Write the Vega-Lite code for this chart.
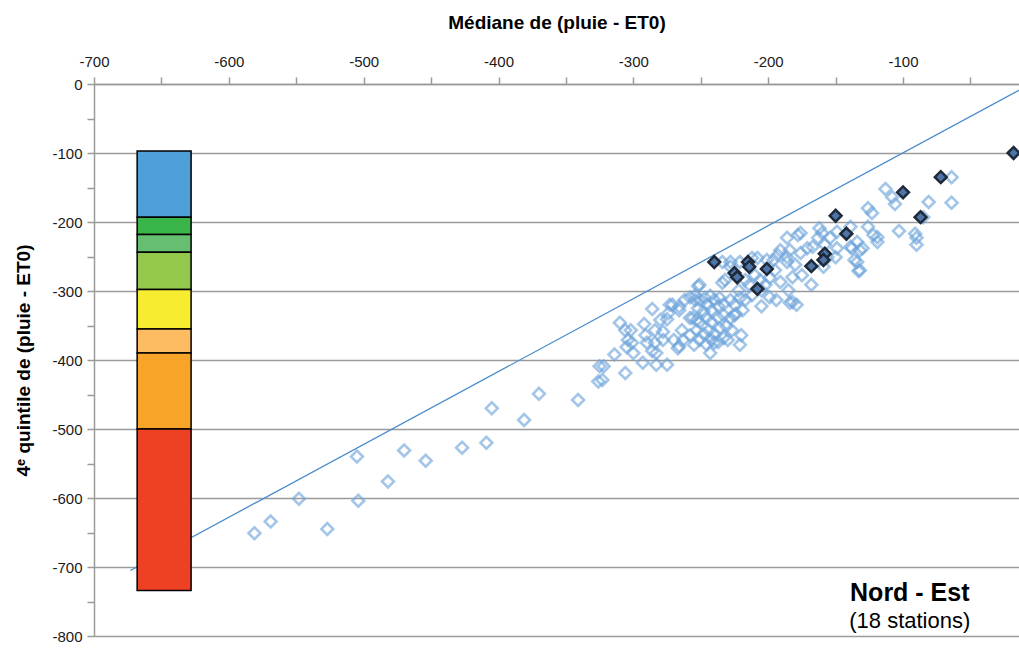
{
"$schema": "https://vega.github.io/schema/vega-lite/v6.json",
"autosize": {"type": "none"},
"padding": {"left": 94, "top": 84, "right": 0, "bottom": 23},
"width": 925,
"height": 552,
"background": "white",
"view": {"stroke": null},
"datasets": {
"pts": [
{"x":-581,"y":-651,"s":0},{"x":-569,"y":-634,"s":0},{"x":-548,"y":-601,"s":0},{"x":-527,"y":-645,"s":0},{"x":-505,"y":-540,"s":0},{"x":-504,"y":-604,"s":0},{"x":-482,"y":-576,"s":0},{"x":-470,"y":-531,"s":0},{"x":-454,"y":-546,"s":0},{"x":-427,"y":-527,"s":0},{"x":-409,"y":-520,"s":0},{"x":-405,"y":-470,"s":0},{"x":-381,"y":-487,"s":0},{"x":-370,"y":-449,"s":0},{"x":-341,"y":-458,"s":0},{"x":-326,"y":-431,"s":0},{"x":-325,"y":-409,"s":0},
{"x":-310,"y":-346,"s":0},{"x":-306,"y":-357,"s":0},{"x":-302,"y":-357,"s":0},{"x":-292,"y":-348,"s":0},{"x":-291,"y":-364,"s":0},{"x":-284,"y":-357,"s":0},{"x":-304,"y":-371,"s":0},{"x":-301,"y":-375,"s":0},{"x":-305,"y":-381,"s":0},{"x":-300,"y":-390,"s":0},{"x":-290,"y":-375,"s":0},{"x":-284,"y":-375,"s":0},{"x":-286,"y":-387,"s":0},{"x":-283,"y":-390,"s":0},{"x":-278,"y":-359,"s":0},{"x":-278,"y":-371,"s":0},{"x":-271,"y":-320,"s":0},{"x":-274,"y":-332,"s":0},{"x":-280,"y":-342,"s":0},{"x":-275,"y":-341,"s":0},{"x":-270,"y":-371,"s":0},{"x":-266,"y":-380,"s":0},{"x":-267,"y":-383,"s":0},{"x":-263,"y":-371,"s":0},{"x":-264,"y":-357,"s":0},{"x":-266,"y":-328,"s":0},{"x":-262,"y":-313,"s":0},{"x":-258,"y":-339,"s":0},{"x":-254,"y":-313,"s":0},{"x":-253,"y":-342,"s":0},{"x":-286,"y":-326,"s":0},{"x":-322,"y":-409,"s":0},{"x":-323,"y":-429,"s":0},{"x":-306,"y":-419,"s":0},{"x":-293,"y":-404,"s":0},{"x":-283,"y":-407,"s":0},{"x":-275,"y":-407,"s":0},{"x":-314,"y":-392,"s":0},
{"x":-220,"y":-364,"s":0},{"x":-221,"y":-378,"s":0},{"x":-240,"y":-375,"s":0},{"x":-243,"y":-390,"s":0},{"x":-205,"y":-322,"s":0},{"x":-199,"y":-309,"s":0},{"x":-225,"y":-335,"s":0},{"x":-234,"y":-288,"s":0},{"x":-251,"y":-291,"s":0},{"x":-228,"y":-258,"s":0},{"x":-191,"y":-287,"s":0},{"x":-186,"y":-258,"s":0},{"x":-184,"y":-317,"s":0},
{"x":-113,"y":-152,"s":0},{"x":-108,"y":-164,"s":0},{"x":-126,"y":-180,"s":0},{"x":-123,"y":-187,"s":0},{"x":-139,"y":-207,"s":0},{"x":-126,"y":-207,"s":0},{"x":-122,"y":-219,"s":0},{"x":-119,"y":-222,"s":0},{"x":-119,"y":-229,"s":0},{"x":-162,"y":-209,"s":0},{"x":-160,"y":-216,"s":0},{"x":-149,"y":-214,"s":0},{"x":-154,"y":-223,"s":0},{"x":-149,"y":-238,"s":0},{"x":-150,"y":-251,"s":0},{"x":-139,"y":-236,"s":0},{"x":-134,"y":-229,"s":0},{"x":-130,"y":-238,"s":0},{"x":-136,"y":-255,"s":0},{"x":-132,"y":-270,"s":0},{"x":-163,"y":-223,"s":0},{"x":-176,"y":-216,"s":0},{"x":-171,"y":-238,"s":0},{"x":-176,"y":-245,"s":0},{"x":-180,"y":-262,"s":0},{"x":-182,"y":-280,"s":0},{"x":-175,"y":-277,"s":0},{"x":-168,"y":-291,"s":0},{"x":-182,"y":-316,"s":0},{"x":-179,"y":-320,"s":0},{"x":-185,"y":-299,"s":0},{"x":-186,"y":-223,"s":0},{"x":-167,"y":-236,"s":0},{"x":-158,"y":-233,"s":0},{"x":-156,"y":-251,"s":0},{"x":-159,"y":-265,"s":0},
{"x":-64,"y":-135,"s":0},{"x":-106,"y":-174,"s":0},{"x":-81,"y":-171,"s":0},{"x":-64,"y":-172,"s":0},{"x":-85,"y":-193,"s":0},{"x":-103,"y":-213,"s":0},{"x":-91,"y":-217,"s":0},{"x":-90,"y":-223,"s":0},{"x":-90,"y":-233,"s":0},{"x":-132,"y":-241,"s":0},{"x":-138,"y":-238,"s":0},{"x":-134,"y":-258,"s":0},{"x":-133,"y":-271,"s":0},{"x":-184,"y":-241,"s":0},
{"x":-178,"y":-219,"s":0},{"x":-191,"y":-241,"s":0},{"x":-186,"y":-251,"s":0},{"x":-196,"y":-255,"s":0},{"x":-201,"y":-255,"s":0},{"x":-208,"y":-252,"s":0},{"x":-234,"y":-258,"s":0},{"x":-228,"y":-265,"s":0},
{"x":-252,"y":-293,"s":0},{"x":-258,"y":-309,"s":0},{"x":-266,"y":-323,"s":0},{"x":-273,"y":-320,"s":0},
{"x":-254,"y":-306,"s":0},{"x":-251,"y":-313,"s":0},{"x":-247,"y":-310,"s":0},{"x":-243,"y":-307,"s":0},{"x":-240,"y":-313,"s":0},{"x":-236,"y":-310,"s":0},{"x":-252,"y":-325,"s":0},{"x":-248,"y":-330,"s":0},{"x":-245,"y":-320,"s":0},{"x":-242,"y":-328,"s":0},{"x":-237,"y":-322,"s":0},{"x":-233,"y":-319,"s":0},{"x":-228,"y":-313,"s":0},{"x":-225,"y":-320,"s":0},{"x":-221,"y":-310,"s":0},{"x":-256,"y":-339,"s":0},{"x":-251,"y":-345,"s":0},{"x":-246,"y":-339,"s":0},{"x":-242,"y":-345,"s":0},{"x":-237,"y":-339,"s":0},{"x":-233,"y":-335,"s":0},{"x":-228,"y":-339,"s":0},{"x":-224,"y":-333,"s":0},{"x":-219,"y":-328,"s":0},{"x":-253,"y":-357,"s":0},{"x":-248,"y":-362,"s":0},{"x":-244,"y":-357,"s":0},{"x":-240,"y":-362,"s":0},{"x":-236,"y":-354,"s":0},{"x":-231,"y":-351,"s":0},{"x":-227,"y":-357,"s":0},{"x":-251,"y":-371,"s":0},{"x":-246,"y":-377,"s":0},{"x":-242,"y":-371,"s":0},{"x":-237,"y":-374,"s":0},{"x":-233,"y":-368,"s":0},{"x":-258,"y":-364,"s":0},{"x":-255,"y":-378,"s":0},{"x":-230,"y":-371,"s":0},
{"x":-217,"y":-284,"s":0},{"x":-214,"y":-291,"s":0},{"x":-210,"y":-277,"s":0},{"x":-206,"y":-284,"s":0},{"x":-202,"y":-291,"s":0},{"x":-199,"y":-281,"s":0},{"x":-195,"y":-270,"s":0},{"x":-212,"y":-306,"s":0},{"x":-205,"y":-299,"s":0},{"x":-217,"y":-313,"s":0},{"x":-222,"y":-299,"s":0},{"x":-194,"y":-313,"s":0},{"x":-221,"y":-258,"s":0},{"x":-212,"y":-252,"s":0},{"x":-193,"y":-248,"s":0},{"x":-232,"y":-284,"s":0},
{"x":-240,"y":-258,"s":1},{"x":-225,"y":-274,"s":1},{"x":-223,"y":-280,"s":1},{"x":-215,"y":-258,"s":1},{"x":-214,"y":-265,"s":1},{"x":-208,"y":-297,"s":1},{"x":-201,"y":-268,"s":1},{"x":-150,"y":-191,"s":1},{"x":-142,"y":-217,"s":1},{"x":-158,"y":-246,"s":1},{"x":-159,"y":-255,"s":1},{"x":-168,"y":-264,"s":1},{"x":-18,"y":-100,"s":1},{"x":-72,"y":-135,"s":1},{"x":-100,"y":-157,"s":1},{"x":-87,"y":-193,"s":1}
],
"bar": [
{"x":-668,"xe":-628,"y":-97,"ye":-193,"c":"a"},
{"x":-668,"xe":-628,"y":-193,"ye":-218,"c":"b"},
{"x":-668,"xe":-628,"y":-218,"ye":-244,"c":"c"},
{"x":-668,"xe":-628,"y":-244,"ye":-298,"c":"d"},
{"x":-668,"xe":-628,"y":-298,"ye":-355,"c":"e"},
{"x":-668,"xe":-628,"y":-355,"ye":-390,"c":"f"},
{"x":-668,"xe":-628,"y":-390,"ye":-500,"c":"g"},
{"x":-668,"xe":-628,"y":-500,"ye":-734,"c":"h"}
],
"line": [{"x":-673,"y":-705},{"x":-14,"y":-9}],
"lab": [{"x":-95,"y":-738,"t":"Nord - Est","k":"a"},{"x":-95,"y":-778,"t":"(18 stations)","k":"b"}]
},
"encoding": {
"x": {"field": "x", "type": "quantitative",
 "scale": {"domain": [-700, -14], "nice": false, "zero": false},
 "axis": {"orient": "top", "title": "Médiane de (pluie - ET0)",
  "values": [-700,-650,-600,-550,-500,-450,-400,-350,-300,-250,-200,-150,-100,-50],
  "labelExpr": "datum.value % 100 === 0 ? '' + datum.value : ''",
  "grid": false, "domainColor": "#9a9a9a", "domainWidth": 1.5, "tickColor": "#9a9a9a", "tickWidth": 1.5, "tickSize": 7,
  "labelFont": "Liberation Sans", "labelFontSize": 15, "labelColor": "#1a1a1a", "labelPadding": 8, "labelFlush": false,
  "titleFont": "Liberation Sans", "titleFontSize": 19, "titleFontWeight": "bold", "titleColor": "#000", "titlePadding": 22}},
"y": {"field": "y", "type": "quantitative",
 "scale": {"domain": [-800, 0], "nice": false, "zero": false},
 "axis": {"orient": "left", "title": "4ᵉ quintile de (pluie - ET0)",
  "values": [-800,-750,-700,-650,-600,-550,-500,-450,-400,-350,-300,-250,-200,-150,-100,-50,0],
  "labelExpr": "datum.value % 100 === 0 ? '' + datum.value : ''",
  "grid": true, "gridColor": "#9a9a9a", "gridWidth": 1.5,
  "gridOpacity": {"condition": {"test": "datum.value % 100 === 0", "value": 1}, "value": 0},
  "domainColor": "#9a9a9a", "domainWidth": 1.5, "tickColor": "#9a9a9a", "tickWidth": 1.5, "tickSize": 7,
  "labelFont": "Liberation Sans", "labelFontSize": 15, "labelColor": "#1a1a1a", "labelPadding": 5, "labelFlush": false,
  "titleFont": "Liberation Sans", "titleFontSize": 19, "titleFontWeight": "bold", "titleColor": "#000", "titlePadding": 18}}
},
"layer": [
{"data": {"name": "line"}, "mark": {"type": "line", "color": "#4a8ccc", "strokeWidth": 1.3}, "encoding": {}},
{"data": {"name": "bar"}, "mark": {"type": "rect", "stroke": "#000", "strokeWidth": 1.5},
 "encoding": {"x2": {"field": "xe"}, "y2": {"field": "ye"},
  "color": {"field": "c", "type": "nominal", "legend": null,
   "scale": {"domain": ["a","b","c","d","e","f","g","h"], "range": ["#4f9fd8","#3ab54a","#66bf70","#93c84c","#f7ec30","#fdbb62","#f7a428","#ee4124"]}}}},
{"data": {"name": "pts"}, "transform": [{"filter": "datum.s === 0"}],
 "mark": {"type": "point", "shape": "diamond", "filled": false, "size": 140, "stroke": "#6ea4dc", "strokeWidth": 2.6, "strokeOpacity": 0.9}},
{"data": {"name": "pts"}, "transform": [{"filter": "datum.s === 1"}],
 "mark": {"type": "point", "shape": "diamond", "filled": true, "size": 140, "fill": "#4f74a8", "fillOpacity": 1, "stroke": "#1e2a3a", "strokeWidth": 2.5, "strokeOpacity": 1}},
{"data": {"name": "lab"}, "transform": [{"filter": "datum.k === 'a'"}],
 "mark": {"type": "text", "font": "Liberation Sans", "fontSize": 25, "fontWeight": "bold", "color": "#000", "align": "center", "baseline": "middle"},
 "encoding": {"text": {"field": "t"}}},
{"data": {"name": "lab"}, "transform": [{"filter": "datum.k === 'b'"}],
 "mark": {"type": "text", "font": "Liberation Sans", "fontSize": 22, "color": "#000", "align": "center", "baseline": "middle"},
 "encoding": {"text": {"field": "t"}}}
]
}
